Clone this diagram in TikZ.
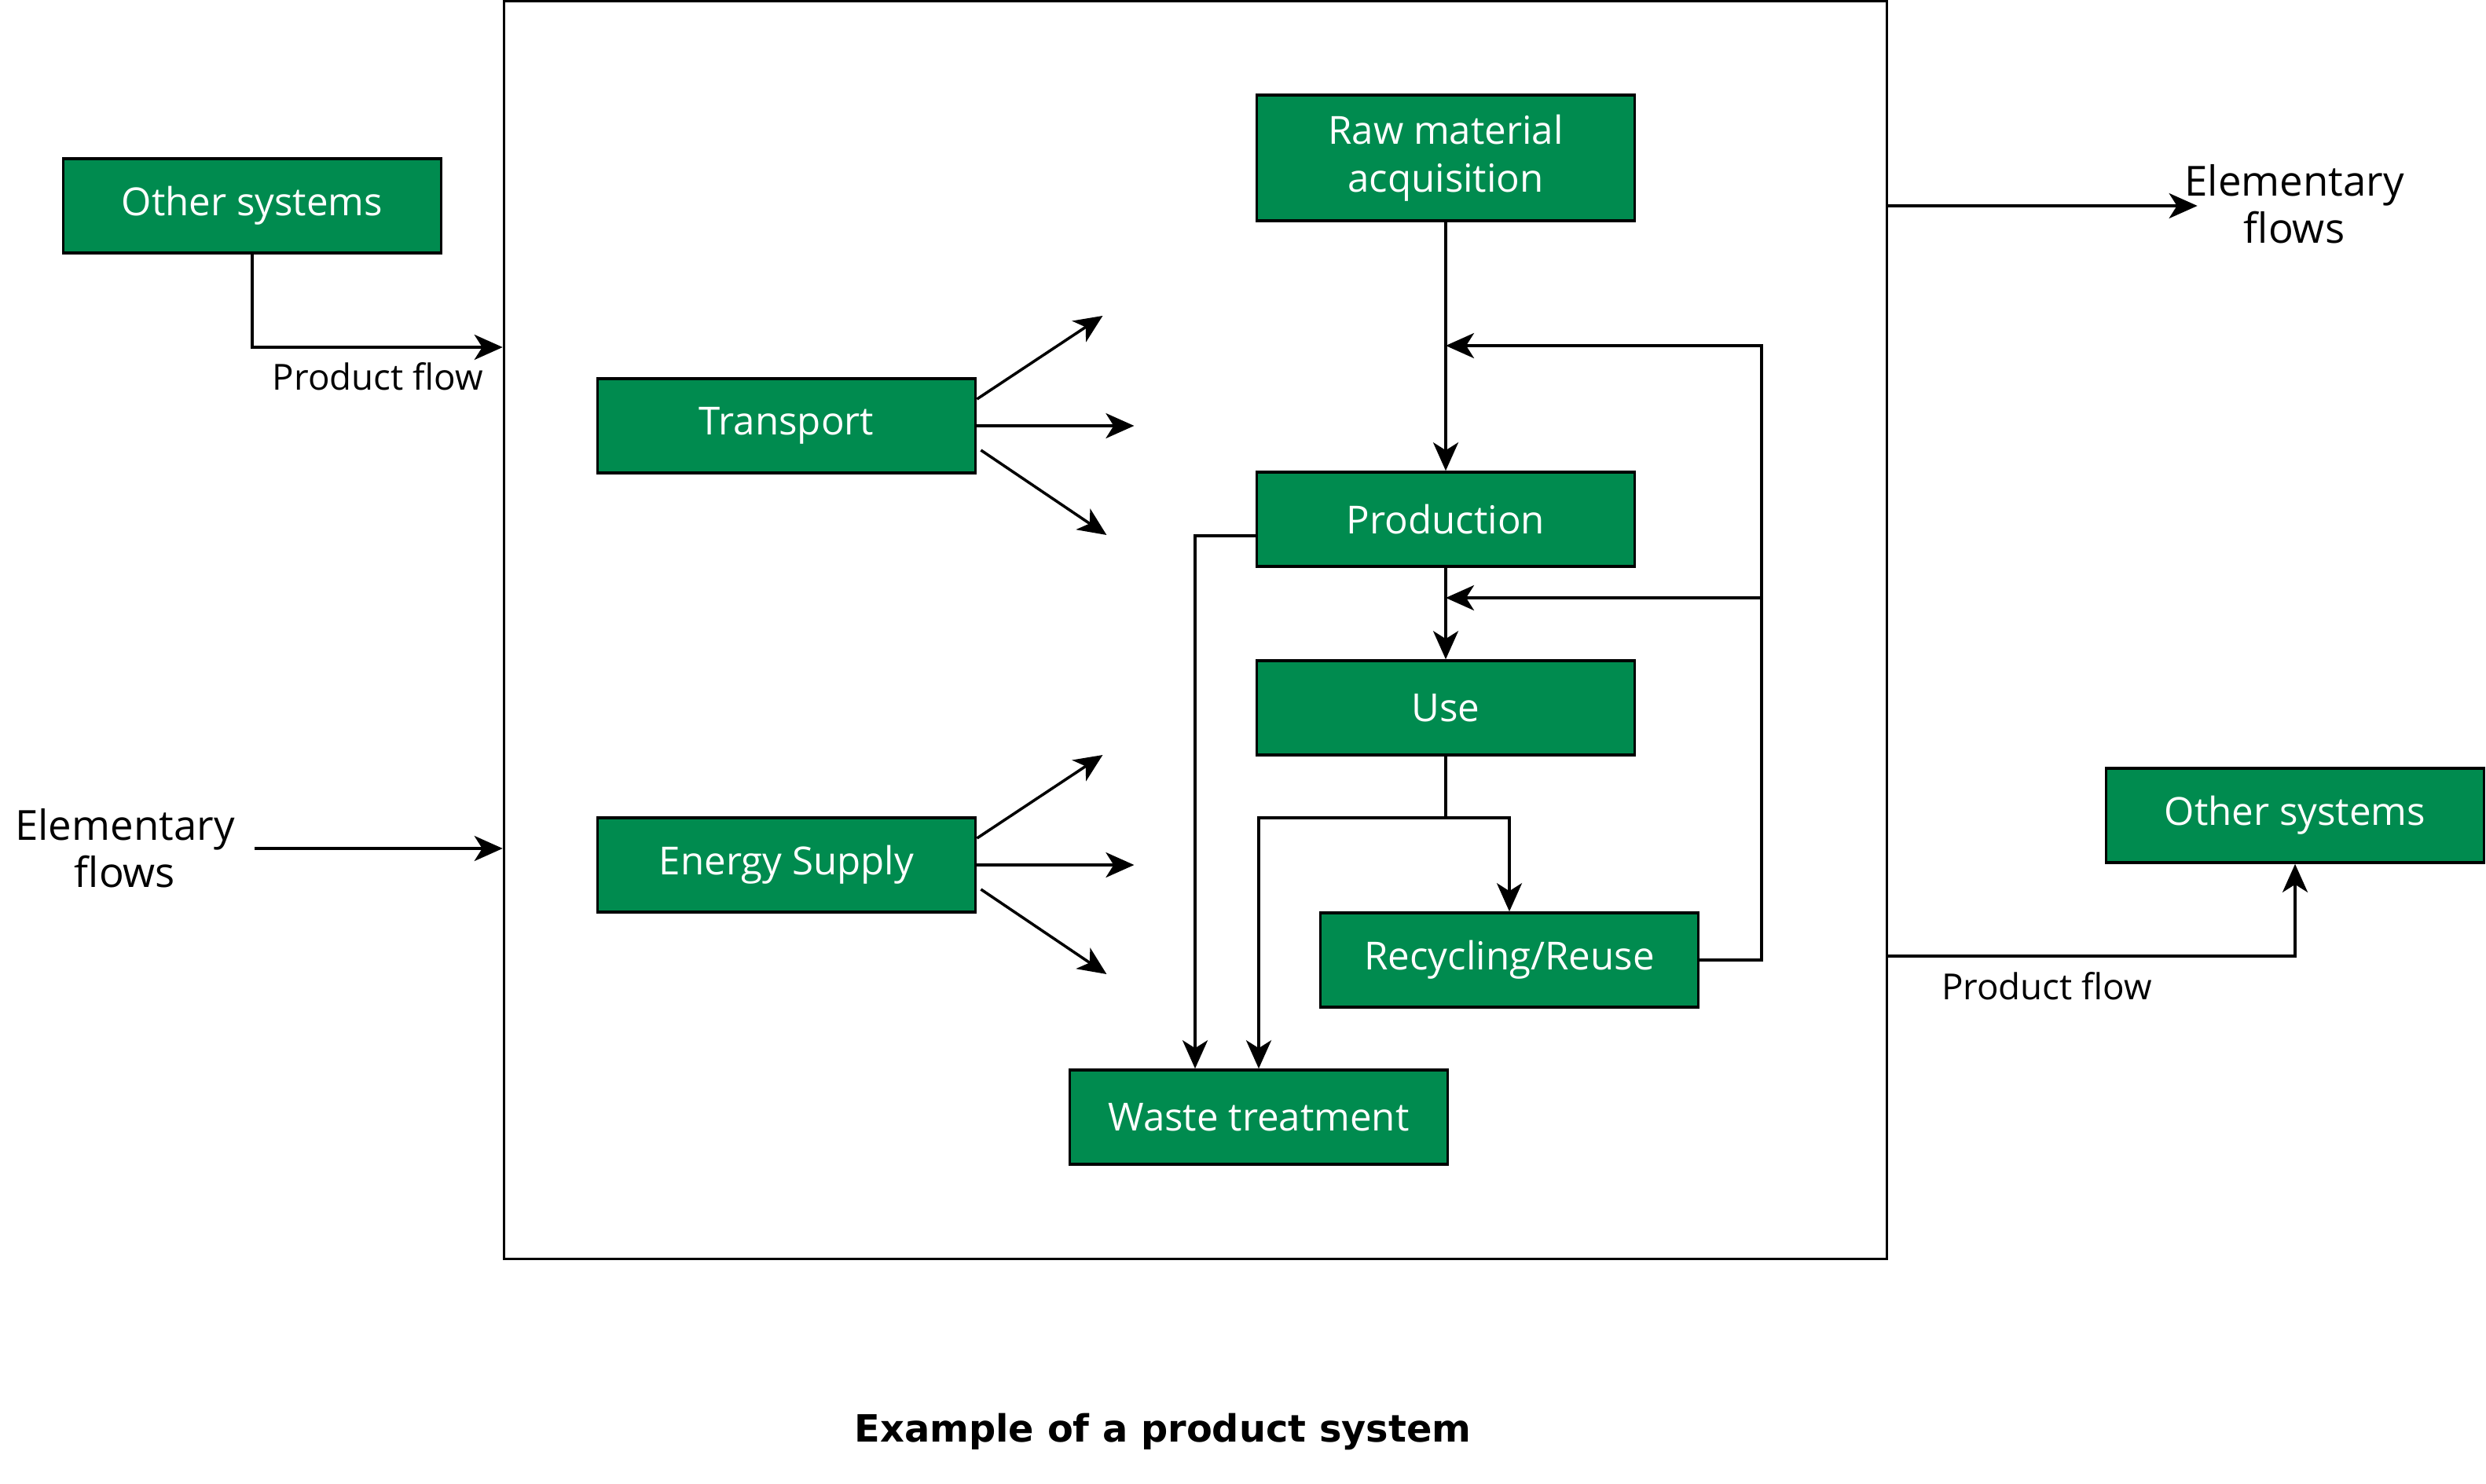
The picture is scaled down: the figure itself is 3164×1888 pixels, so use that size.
\documentclass[tikz,border=0pt]{standalone}
\usepackage{fontspec}
\setmainfont{Open Sans}
\newfontfamily\captionfont{DejaVu Sans}
\usepackage{tikz}
\usetikzlibrary{calc}
\usetikzlibrary{arrows.meta}
\usepackage{xcolor}
\definecolor{lcagreen}{rgb}{0.0,0.545,0.31}
\tikzset{
  stagebox/.style={draw, line width=1pt, fill=lcagreen, text=white, align=center,
    minimum width=4.81cm, minimum height=1.2cm, inner sep=0pt,
    font=\fontsize{14}{17.2}\selectfont},
  flowlabel/.style={inner sep=0pt, align=center},
  flow/.style={line width=1pt, -{Stealth[length=0.36cm, width=0.32cm, inset=0.1cm]}},
}

\begin{document}
\begin{tikzpicture}[x=0.01cm, y=0.01cm]
\useasboundingbox (0,0) rectangle (3164,-1888);

%%%%%%%%%%%%%%%%%%%%%%%%%%%%%%%%%%%%%%%%%%%%%%%%%%%%%%%%%%%%%% System boundary
\node[draw, line width=1pt, minimum width=17.59cm, minimum height=16cm, inner sep=0pt] (sys) at (1521.5,-802) {};

%%%%%%%%%%%%%%%%%%%%%%%%%%%%%%%%%%%%%%%%%%%%%%%%%%%%%%%%%%%%%% Stages
\node[stagebox, minimum height=1.6cm] (raw) at (1840,-201) {Raw material\\acquisition};
\node[stagebox] (prod) at (1840,-661) {Production};
\node[stagebox] (use) at (1840,-901) {Use};
\node[stagebox] (recy) at (1921,-1222) {Recycling/Reuse};
\node[stagebox] (waste) at (1602,-1422) {Waste treatment};
\node[stagebox] (trans) at (1001,-542) {Transport};
\node[stagebox] (energy) at (1001,-1101) {Energy Supply};

%%%%%%%%%%%%%%%%%%%%%%%%%%%%%%%%%%%%%%%%%%%%%%%%%%%%%%%%%%%%%% Outside
\node[stagebox] (othin) at (321,-262) {Other systems};
\node[stagebox] (othout) at (2921,-1038) {Other systems};

\node[flowlabel, font=\fontsize{15}{17}\selectfont] (elemin) at (159,-1080) {Elementary\\flows};
\node[flowlabel, font=\fontsize{15}{17}\selectfont] (elemout) at (2920,-260) {Elementary\\flows};
\node[flowlabel, font=\fontsize{13}{15}\selectfont] (prodin) at (481,-479) {Product flow};
\node[flowlabel, font=\fontsize{13}{15}\selectfont] (prodout) at (2605,-1255) {Product flow};

\node[flowlabel, font=\captionfont\bfseries\fontsize{13.6}{16}\selectfont] (title) at (1480,-1822) {Example of a product system};

%%%%%%%%%%%%%%%%%%%%%%%%%%%%%%%%%%%%%%%%%%%%%%%%%%%%%%%%%%%%%% Flows inside
\draw[flow] (raw) -- (prod);
\draw[flow] (prod) -- (use);

\coordinate (fbtop) at (2242,-440);
\draw[flow] (recy.east) -| (fbtop) -- (raw.south |- fbtop);
\draw[flow] (fbtop |- 0,-761) -- (prod.south |- 0,-761);

\draw[flow] ($(prod.west)+(0,-21)$) -| ($(waste.north)+(-81,0)$);

\coordinate (split) at (1840,-1041);
\draw[line width=1pt] (use) -- (split);
\draw[flow] (split) -| (recy.north);
\draw[flow] (split) -| (waste.north);

% transport and energy go everywhere
\draw[flow] ($(trans.east)+(0,34)$) -- ($(trans.east)+(160,140)$);
\draw[flow] (trans.east) -- ($(trans.east)+(200,0)$);
\draw[flow] ($(trans.east)+(5,-31)$) -- ($(trans.east)+(165,-139)$);

\draw[flow] ($(energy.east)+(0,34)$) -- ($(energy.east)+(160,140)$);
\draw[flow] (energy.east) -- ($(energy.east)+(200,0)$);
\draw[flow] ($(energy.east)+(5,-31)$) -- ($(energy.east)+(165,-139)$);

%%%%%%%%%%%%%%%%%%%%%%%%%%%%%%%%%%%%%%%%%%%%%%%%%%%%%%%%%%%%%% Flows across the boundary
\draw[flow] (othin.south) |- (sys.west |- 0,-442);
\draw[flow] ($(elemin.east)+(25,0)$) -- (sys.west |- 0,-1080);
\draw[flow] (sys.east |- 0,-262) -- ($(elemout.west)+(17,-2)$);
\draw[flow] (sys.east |- 0,-1217) -| (othout.south);

\end{tikzpicture}
\end{document}
